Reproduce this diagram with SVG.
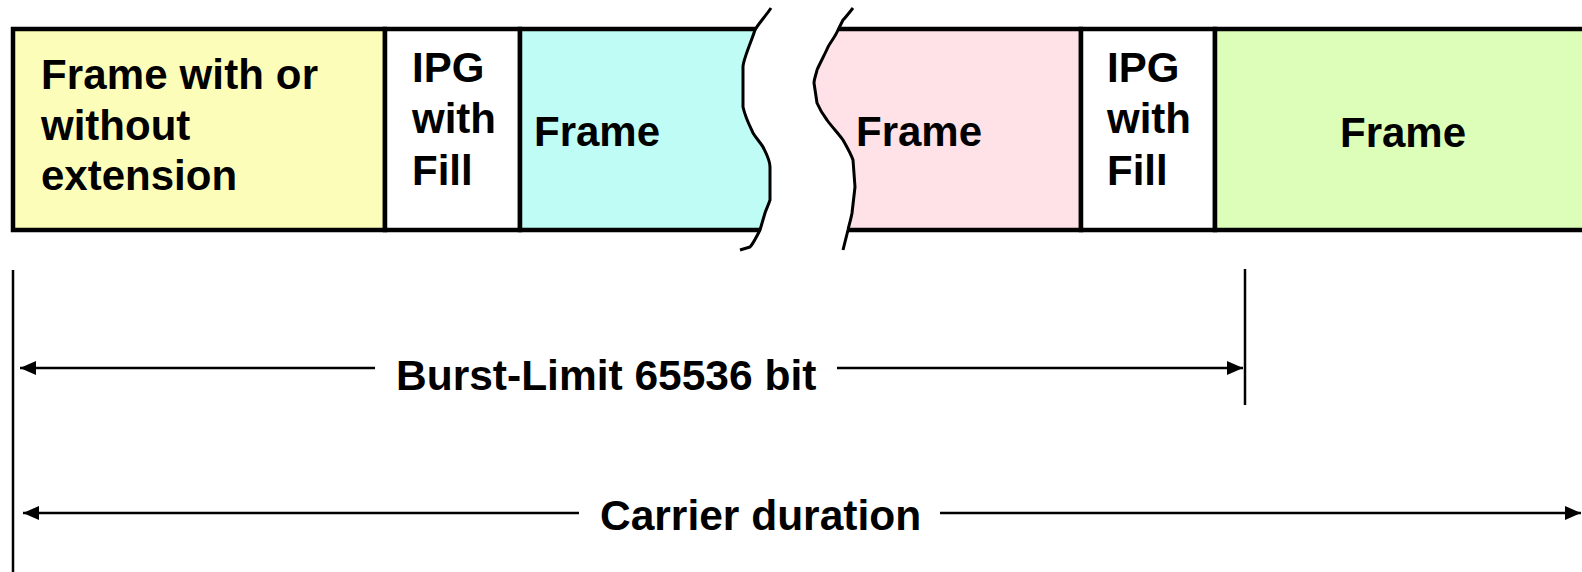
<svg xmlns="http://www.w3.org/2000/svg" width="1582" height="572" viewBox="0 0 1582 572">
<defs>
<style>
.box{stroke:#000;stroke-width:4.5}
.edge{fill:none;stroke:#000;stroke-width:3;stroke-linejoin:round}
.t{font-family:"Liberation Sans",Arial,sans-serif;font-weight:bold;font-size:42px;fill:#000}
.lbl{font-family:"Liberation Sans",Arial,sans-serif;font-weight:bold;font-size:42.5px;fill:#000}
.dim{stroke:#000;stroke-width:2.5;fill:none}
</style>
<marker id="ah" markerUnits="userSpaceOnUse" markerWidth="18" markerHeight="14" viewBox="0 0 18 14" refX="16" refY="7" orient="auto-start-reverse">
<path d="M0,0 L16,7 L0,14 Z" fill="#000"/>
</marker>
</defs>
<rect width="1582" height="572" fill="#fff"/>
<g id="frame1">
<rect class="box" x="13" y="29" width="372" height="201" fill="#FDFDBA"/>
<text class="t" x="41" y="89" textLength="277">Frame with or</text>
<text class="t" x="41" y="140">without</text>
<text class="t" x="41" y="190">extension</text>
</g>
<g id="ipg1">
<rect class="box" x="385" y="29" width="135" height="201" fill="#fff"/>
<text class="t" x="412" y="82">IPG</text>
<text class="t" x="412" y="133">with</text>
<text class="t" x="412" y="185">Fill</text>
</g>
<g id="frame2">
<path d="M520,29 L755,29 C750,45 743,60 743,70 L743,107 C745,120 755,140 763,147 C768,155 770,160 770,167 L770,200 C768,205 766,210 765,213 L760,230 L520,230 Z" fill="#BEFCF5"/>
<path class="box" d="M755,29 L520,29 L520,230 L760,230" fill="none"/>
<path class="edge" d="M771,8 C765,17 758,24 755,30 C750,45 743,60 743,67 L743,107 C746,120 752,130 753,133 C756,138 760,142 763,147 C767,155 770,160 770,167 L770,200 C768,206 766,210 765,213 L760,230 C756,238 753,244 750,247 L740,250"/>
<text class="t" x="534" y="146">Frame</text>
</g>
<g id="frame3">
<path d="M838,29 L1081,29 L1081,230 L848,230 C850,222 852,218 852,213 L855,187 L853,160 C850,150 846,145 843,140 C836,130 830,124 827,120 C822,112 817,108 817,103 L814,83 C815,78 816,74 817,70 C820,62 825,53 828,47 Z" fill="#FFE1E8"/>
<path class="box" d="M838,29 L1081,29 L1081,230 L848,230" fill="none"/>
<path class="edge" d="M853,8 C849,13 846,17 843,20 L838,30 C835,37 830,43 828,47 C825,54 820,63 817,70 C816,75 814,79 814,83 L817,103 C820,110 824,116 827,120 C832,127 838,133 843,140 C847,147 851,154 853,160 L855,187 L852,213 C851,219 849,225 848,230 L843,250"/>
<text class="t" x="856" y="146">Frame</text>
</g>
<g id="ipg2">
<rect class="box" x="1081" y="29" width="134" height="201" fill="#fff"/>
<text class="t" x="1107" y="82">IPG</text>
<text class="t" x="1107" y="133">with</text>
<text class="t" x="1107" y="185">Fill</text>
</g>
<g id="frame4">
<rect x="1215" y="29" width="380" height="201" fill="#DCFEB8"/>
<path class="box" d="M1590,29 L1215,29 L1215,230 L1590,230" fill="none"/>
<text class="t" x="1340" y="147">Frame</text>
</g>
<g id="connectors">
<line class="dim" x1="13" y1="270" x2="13" y2="572"/>
<line class="dim" x1="1245" y1="269" x2="1245" y2="405"/>
<line class="dim" x1="375" y1="368" x2="20" y2="368" marker-end="url(#ah)"/>
<line class="dim" x1="837" y1="368" x2="1243" y2="368" marker-end="url(#ah)"/>
<line class="dim" x1="579" y1="513" x2="23" y2="513" marker-end="url(#ah)"/>
<line class="dim" x1="940" y1="513" x2="1581" y2="513" marker-end="url(#ah)"/>
</g>
<g id="labels">
<text class="lbl" x="396" y="390">Burst-Limit 65536 bit</text>
<text class="lbl" x="600" y="530">Carrier duration</text>
</g>
</svg>
